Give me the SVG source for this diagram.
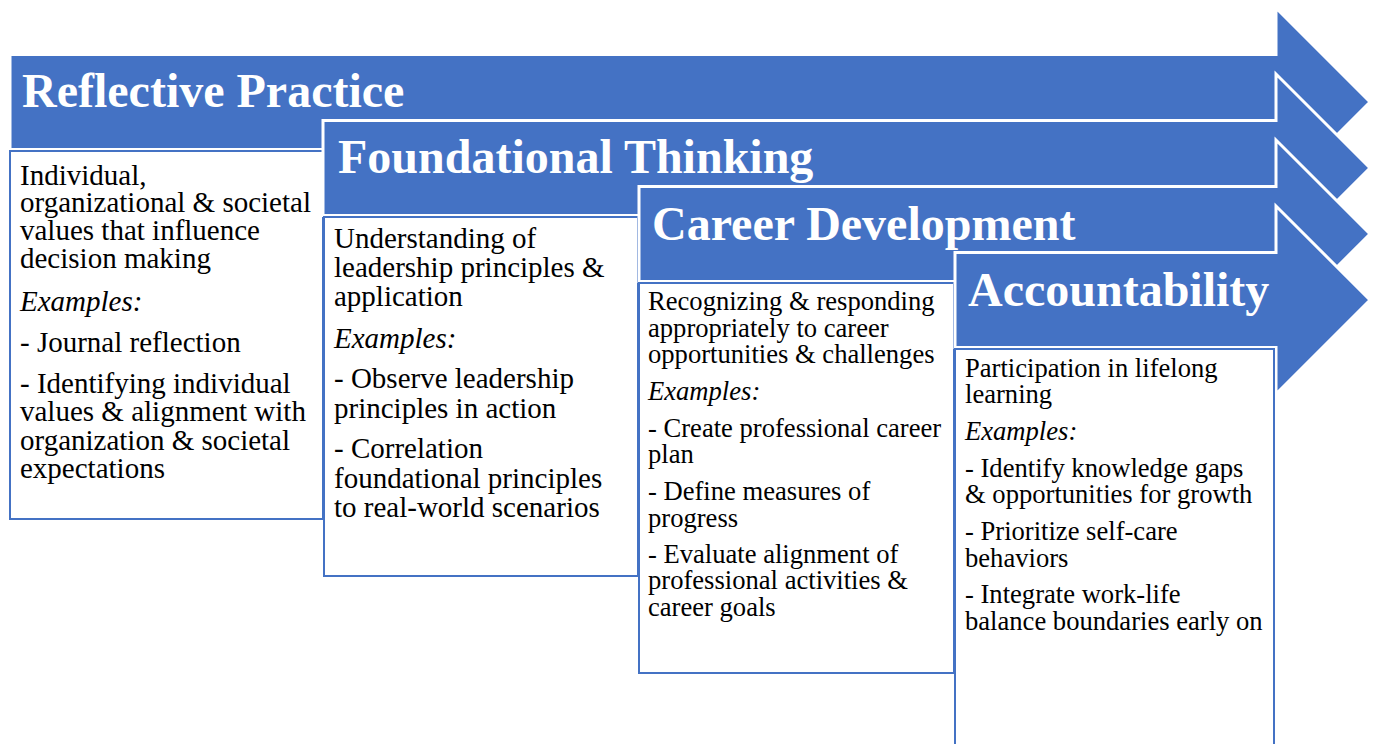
<svg xmlns="http://www.w3.org/2000/svg" width="1376" height="744" viewBox="0 0 1376 744">
  <style>
    .arrow { fill: #4472C4; stroke: #FFFFFF; stroke-width: 3; stroke-linejoin: miter; }
    .box { fill: #FFFFFF; stroke: #4472C4; stroke-width: 2; }
    .title { font-family: "Liberation Serif", "Times New Roman", serif; font-weight: bold; font-size: 48px; fill: #FFFFFF; }
    .body { font-family: "Liberation Serif", "Times New Roman", serif; fill: #000000; }
    .lg { font-size: 29px; }
    .sm { font-size: 26.6px; }
    .ex { font-style: italic; }
  </style>
  <rect x="0" y="0" width="1376" height="744" fill="#FFFFFF"/>

  <!-- Step 1 -->
  <g id="step-reflective-practice">
    <polygon class="arrow" points="10,54.5 1276,54.5 1276,8 1370,102 1276,196 1276,149.5 10,149.5"/>
    <text class="title" x="22" y="107">Reflective Practice</text>
    <rect class="box" x="10" y="151" width="313" height="368"/>
    <g class="body lg">
      <text x="20" y="185">Individual,</text>
      <text x="20" y="212">organizational &amp; societal</text>
      <text x="20" y="240">values that influence</text>
      <text x="20" y="268">decision making</text>
      <text class="ex" x="20" y="311">Examples:</text>
      <text x="20" y="352">- Journal reflection</text>
      <text x="20" y="393">- Identifying individual</text>
      <text x="20" y="421">values &amp; alignment with</text>
      <text x="20" y="450">organization &amp; societal</text>
      <text x="20" y="478">expectations</text>
    </g>
  </g>

  <!-- Step 2 -->
  <g id="step-foundational-thinking">
    <polygon class="arrow" points="323,120.5 1276,120.5 1276,74 1370,168 1276,262 1276,215.5 323,215.5"/>
    <text class="title" x="338" y="173">Foundational Thinking</text>
    <rect class="box" x="324" y="217" width="314" height="359"/>
    <g class="body lg">
      <text x="334" y="248">Understanding of</text>
      <text x="334" y="277">leadership principles &amp;</text>
      <text x="334" y="306">application</text>
      <text class="ex" x="334" y="348">Examples:</text>
      <text x="334" y="388">- Observe leadership</text>
      <text x="334" y="418">principles in action</text>
      <text x="334" y="458">- Correlation</text>
      <text x="334" y="488">foundational principles</text>
      <text x="334" y="517">to real-world scenarios</text>
    </g>
  </g>

  <!-- Step 3 -->
  <g id="step-career-development">
    <polygon class="arrow" points="639,186.5 1276,186.5 1276,140 1370,234 1276,328 1276,281.5 639,281.5"/>
    <text class="title" x="652" y="240">Career Development</text>
    <rect class="box" x="639" y="283" width="315" height="390"/>
    <g class="body sm">
      <text x="648" y="310">Recognizing &amp; responding</text>
      <text x="648" y="337">appropriately to career</text>
      <text x="648" y="363">opportunities &amp; challenges</text>
      <text class="ex" x="648" y="400">Examples:</text>
      <text x="648" y="437">- Create professional career</text>
      <text x="648" y="463">plan</text>
      <text x="648" y="500">- Define measures of</text>
      <text x="648" y="527">progress</text>
      <text x="648" y="563">- Evaluate alignment of</text>
      <text x="648" y="589">professional activities &amp;</text>
      <text x="648" y="616">career goals</text>
    </g>
  </g>

  <!-- Step 4 -->
  <g id="step-accountability">
    <polygon class="arrow" points="955,252.5 1276,252.5 1276,206 1370,300 1276,394 1276,347.5 955,347.5"/>
    <text class="title" x="968" y="306">Accountability</text>
    <rect class="box" x="955" y="349" width="319" height="410"/>
    <g class="body sm">
      <text x="965" y="377">Participation in lifelong</text>
      <text x="965" y="403">learning</text>
      <text class="ex" x="965" y="440">Examples:</text>
      <text x="965" y="477">- Identify knowledge gaps</text>
      <text x="965" y="503">&amp; opportunities for growth</text>
      <text x="965" y="540">- Prioritize self-care</text>
      <text x="965" y="567">behaviors</text>
      <text x="965" y="603">- Integrate work-life</text>
      <text x="965" y="630">balance boundaries early on</text>
    </g>
  </g>

  <!-- no connectors: the steps are joined by their overlapping arrows -->
  <g id="connectors"/>
</svg>
